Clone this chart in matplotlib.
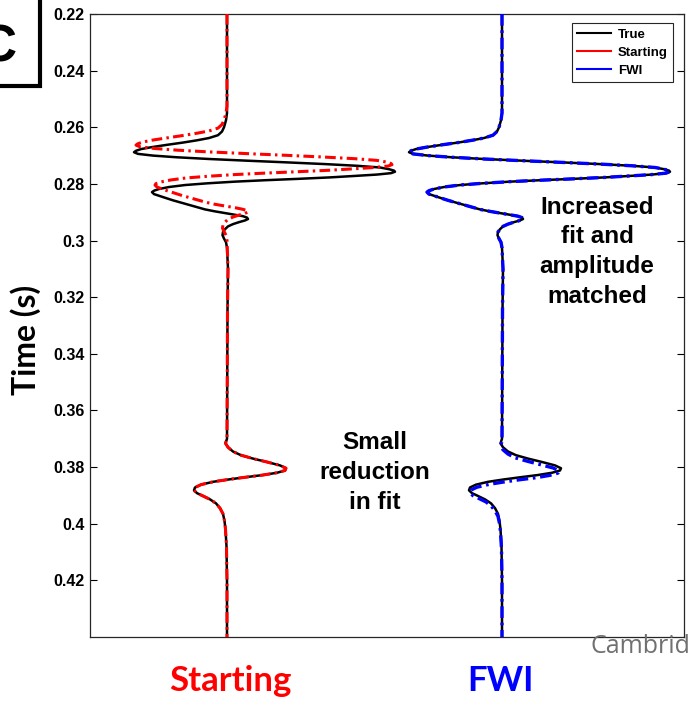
import matplotlib.pyplot as plt
from matplotlib.lines import Line2D
from matplotlib.patches import Rectangle

# trace amplitudes (pixel-like units, right = positive)
true_t = [0.2200, 0.2550, 0.2575, 0.2600, 0.2615, 0.2628, 0.2638, 0.2646, 0.2654, 0.2662,
          0.2670, 0.2677, 0.2683, 0.2688, 0.2694, 0.2700, 0.2706, 0.2712, 0.2718, 0.2724,
          0.2730, 0.2736, 0.2742, 0.2748, 0.2753, 0.2757, 0.2762, 0.2767, 0.2772, 0.2777,
          0.2782, 0.2787, 0.2792, 0.2798, 0.2804, 0.2811, 0.2818, 0.2824, 0.2829, 0.2836,
          0.2843, 0.2850, 0.2858, 0.2866, 0.2874, 0.2882, 0.2890, 0.2897, 0.2903, 0.2909,
          0.2914, 0.2919, 0.2924, 0.2929, 0.2935, 0.2942, 0.2950, 0.2960, 0.2970, 0.2981,
          0.2993, 0.3006, 0.3025, 0.3100, 0.3250, 0.3700, 0.3716, 0.3730, 0.3745, 0.3758,
          0.3770, 0.3782, 0.3794, 0.3804, 0.3812, 0.3820, 0.3828, 0.3836, 0.3844, 0.3852,
          0.3862, 0.3872, 0.3882, 0.3892, 0.3902, 0.3914, 0.3928, 0.3945, 0.3965, 0.3990,
          0.4020, 0.4080, 0.4200, 0.4400]
true_amp = [0, 0, -1, -3, -5, -9, -18, -30, -44, -60,
            -75, -86, -91, -93, -89, -74, -50, -18, 20, 60,
            98, 130, 153, 162, 167, 168, 164, 150, 127, 103,
            72, 38, 8, -20, -42, -58, -68, -73, -75, -73,
            -67, -61, -54, -46, -38, -30, -22, -12, -2, 8,
            16, 20, 21, 18, 12, 6, 1, -2, -4, -4.5,
            -3, -1, 0, 1, 0.5, 0, -1.5, 1, 6, 14,
            26, 40, 53, 59, 58, 50, 36, 18, 1, -14,
            -26, -32, -33, -30, -24, -17, -11, -7, -4, -2.5,
            -1.5, -0.5, 0, 0]

start_t = [0.2200, 0.2525, 0.2550, 0.2575, 0.2590, 0.2603, 0.2613, 0.2621, 0.2629, 0.2637,
           0.2645, 0.2652, 0.2658, 0.2663, 0.2669, 0.2675, 0.2681, 0.2687, 0.2693, 0.2699,
           0.2705, 0.2711, 0.2717, 0.2723, 0.2728, 0.2732, 0.2737, 0.2742, 0.2747, 0.2752,
           0.2757, 0.2762, 0.2767, 0.2773, 0.2779, 0.2786, 0.2793, 0.2799, 0.2804, 0.2811,
           0.2818, 0.2825, 0.2833, 0.2841, 0.2849, 0.2857, 0.2865, 0.2872, 0.2878, 0.2884,
           0.2889, 0.2894, 0.2899, 0.2904, 0.2910, 0.2917, 0.2925, 0.2935, 0.2945, 0.2956,
           0.2968, 0.2981, 0.3000, 0.3100, 0.3250, 0.3700, 0.3716, 0.3730, 0.3745, 0.3758,
           0.3770, 0.3782, 0.3794, 0.3804, 0.3812, 0.3820, 0.3828, 0.3836, 0.3844, 0.3852,
           0.3862, 0.3872, 0.3882, 0.3892, 0.3902, 0.3914, 0.3928, 0.3945, 0.3965, 0.3990,
           0.4020, 0.4080, 0.4200, 0.4400]
start_amp = [0, 0, -1, -3, -5, -9, -18, -30, -44, -59,
             -74, -84, -89, -91, -87, -72, -49, -18, 20, 59,
             96, 128, 150, 160, 164, 165, 161, 147, 125, 101,
             70, 37, 8, -19, -41, -56, -66, -71, -72, -70,
             -65, -59, -52, -45, -37, -29, -21, -12, -2, 8,
             15, 20, 21, 18, 12, 6, 1, -2, -4, -4.5,
             -3, -1, 0, 1, 0.5, 0, -1.5, 1, 6, 14,
             26, 40, 53, 59, 58, 50, 36, 18, 1, -14,
             -26, -32, -33, -30, -24, -17, -11, -7, -4, -2.5,
             -1.5, -0.5, 0, 0]

fwi_t = [0.2200, 0.2550, 0.2575, 0.2600, 0.2615, 0.2628, 0.2638, 0.2646, 0.2654, 0.2662,
         0.2670, 0.2677, 0.2683, 0.2688, 0.2694, 0.2700, 0.2706, 0.2712, 0.2718, 0.2724,
         0.2730, 0.2736, 0.2742, 0.2748, 0.2753, 0.2757, 0.2762, 0.2767, 0.2772, 0.2777,
         0.2782, 0.2787, 0.2792, 0.2798, 0.2804, 0.2811, 0.2818, 0.2824, 0.2829, 0.2836,
         0.2843, 0.2850, 0.2858, 0.2866, 0.2874, 0.2882, 0.2890, 0.2897, 0.2903, 0.2909,
         0.2914, 0.2919, 0.2924, 0.2929, 0.2935, 0.2942, 0.2950, 0.2960, 0.2970, 0.2981,
         0.2993, 0.3006, 0.3025, 0.3100, 0.3250, 0.3709, 0.3725, 0.3739, 0.3754, 0.3767,
         0.3779, 0.3791, 0.3803, 0.3813, 0.3821, 0.3829, 0.3837, 0.3845, 0.3853, 0.3861,
         0.3871, 0.3881, 0.3891, 0.3901, 0.3911, 0.3923, 0.3937, 0.3954, 0.3974, 0.3999,
         0.4029, 0.4089, 0.4200, 0.4400]
fwi_amp = [0, 0, -1, -3, -5, -9, -18, -30, -44, -60,
           -75, -86, -91, -93, -89, -74, -50, -18, 20, 60,
           98, 130, 153, 162, 167, 168, 164, 150, 127, 103,
           72, 38, 8, -20, -42, -58, -68, -73, -75, -73,
           -67, -61, -54, -46, -38, -30, -22, -12, -2, 8,
           16, 20, 21, 18, 12, 6, 1, -2, -4, -4.5,
           -3, -1, 0, 1, 0.5, 0, -1.4, 1, 6, 13,
           25, 38, 51, 57, 56, 48, 35, 17, 1, -13,
           -25, -31, -32, -29, -23, -16, -11, -7, -4, -2.5,
           -1.5, -0.5, 0, 0]

ytick_vals = [0.22, 0.24, 0.26, 0.28, 0.30, 0.32, 0.34, 0.36, 0.38, 0.40, 0.42]
ytick_labels = ['0.22', '0.24', '0.26', '0.28', '0.3', '0.32', '0.34', '0.36', '0.38', '0.4', '0.42']

base1 = 137   # trace offsets
base2 = 412

fig = plt.figure(figsize=(6.88, 7.06), dpi=100)
ax = fig.add_axes([90/688, 1-637/706, 594/688, 623/706])

dashdot = (0, (3.5, 1.4, 0.8, 1.4))
ax.plot([base1 + a for a in true_amp], true_t, color='black', lw=1.8, zorder=3)
ax.plot([base1 + a for a in start_amp], start_t, color='red', lw=2.2,
        linestyle=dashdot, zorder=4)
ax.plot([base2 + a for a in true_amp], true_t, color='black', lw=1.8, zorder=3)
ax.plot([base2 + a for a in fwi_amp], fwi_t, color='blue', lw=2.4,
        linestyle=dashdot, zorder=4)

ax.set_xlim(0, 594)
ax.set_ylim(0.44, 0.22)
ax.set_xticks([])
ax.set_yticks(ytick_vals)
ax.set_yticklabels(ytick_labels, fontsize=11.5, fontweight='bold', family='Liberation Sans')
ax.tick_params(axis='y', direction='in', length=5, width=0.8, right=True, pad=4)
for s in ax.spines.values():
    s.set_linewidth(0.9)
    s.set_color('#262626')

handles = [Line2D([], [], color='black', lw=1.5),
           Line2D([], [], color='red', lw=1.5),
           Line2D([], [], color='blue', lw=1.5)]
leg = ax.legend(handles, ['True', 'Starting', 'FWI'], loc='upper right',
                bbox_to_anchor=(583/594, 1-9/623), borderaxespad=0,
                prop={'family': 'Liberation Sans', 'weight': 'bold', 'size': 9.5},
                handlelength=2.6, handletextpad=0.5, labelspacing=0.45,
                borderpad=0.4, fancybox=False, framealpha=1)
leg.get_frame().set_edgecolor('#262626')
leg.get_frame().set_linewidth(0.8)

ann = dict(fontsize=17.5, fontweight='bold', family='Liberation Sans',
           ha='center', va='center', multialignment='center', linespacing=1.38)
ax.text(507, 0.3040, 'Increased\nfit and\namplitude\nmatched', **ann)
ax.text(285, 0.3818, 'Small\nreduction\nin fit', **ann)

fig.text(26/688, 1-340/706, 'Time (s)', rotation=90, ha='center', va='center',
         fontsize=23, fontweight='bold', family='Lato')
fig.text(230/688, 1-691/706, 'Starting', color='red', ha='center', va='baseline',
         fontsize=25, fontweight='bold', family='Lato')
fig.text(501/688, 1-691/706, 'FWI', color='blue', ha='center', va='baseline',
         fontsize=25, fontweight='bold', family='Lato')
# watermark, cut off at the right edge as in the source image
fig.text(590/688, 1-653/706, 'Cambridge', color='#707070', ha='left', va='baseline',
         fontsize=18, family='Open Sans')

# panel letter box (partly outside the figure, as in the source)
fig.add_artist(Rectangle((-60/688, 1-86/706), 100/688, 120/706, transform=fig.transFigure,
                         fill=False, lw=3, edgecolor='black', clip_on=False))
fig.text(-1.5/688, 1-62/706, 'C', ha='center', va='baseline', fontsize=37,
         fontweight='bold', family='Liberation Sans')

fig.savefig('out.png', dpi=100)
